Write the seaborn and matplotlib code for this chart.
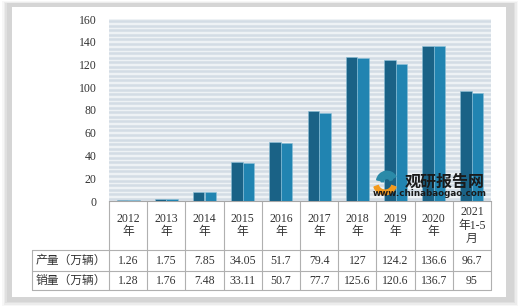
import matplotlib
matplotlib.use("Agg")
import matplotlib.pyplot as plt
import matplotlib.transforms as mtransforms
from matplotlib.patches import Rectangle, Wedge
import seaborn as sns
import pandas as pd

sns.set_theme(style="white")
plt.rcParams['font.family'] = ['Liberation Serif', 'Noto Sans CJK SC']

categories = ["2012\n年", "2013\n年", "2014\n年", "2015\n年", "2016\n年",
              "2017\n年", "2018\n年", "2019\n年", "2020\n年", "2021\n年1-5\n月"]
production = [1.26, 1.75, 7.85, 34.05, 51.7, 79.4, 127, 124.2, 136.6, 96.7]
sales = [1.28, 1.76, 7.48, 33.11, 50.7, 77.7, 125.6, 120.6, 136.7, 95]
series_names = ["产量（万辆）", "销量（万辆）"]
yticks = [0, 20, 40, 60, 80, 100, 120, 140, 160]
colors = ["#1a6286", "#2184b1"]

df = pd.DataFrame({
    "cat": categories * 2,
    "val": production + sales,
    "series": [series_names[0]] * len(categories) + [series_names[1]] * len(categories),
})

W, H = 522, 306
fig = plt.figure(figsize=(W / 100, H / 100), dpi=100)
fig.patch.set_facecolor("white")

def prect(x0, y0, x1, y1, **kw):
    r = Rectangle((x0 / W, 1 - y1 / H), (x1 - x0) / W, (y1 - y0) / H,
                  transform=fig.transFigure, **kw)
    fig.add_artist(r)

for i, a in enumerate([0.15, 0.25, 0.4, 0.6]):
    d = 6 - i * 1.5
    prect(8 - d, 4 - d * 0.5, 512 + d, 300 + d, facecolor="#cfcfcf", edgecolor="none", alpha=a, zorder=-5)
prect(12, 7, 506, 297, facecolor="white", edgecolor="none", zorder=-4)

ax = fig.add_axes([109 / W, 1 - 201 / H, 382 / W, 182 / H])
ax.set_facecolor("#eef2f5")
for y in range(2, 161, 4):
    ax.axhline(y, color="#d3dce5", lw=1.8, zorder=0)

sns.barplot(data=df, x="cat", y="val", hue="series", palette=colors, width=0.6,
            saturation=1, ax=ax, edgecolor="#8cc0d8", linewidth=0.4, zorder=3, legend=False)

ax.set_xlim(-0.5, len(categories) - 0.5)
ax.set_ylim(0, 160)
ax.set_yticks(yticks)
ax.set_yticklabels([str(t) for t in yticks], fontsize=8.5, color="#333333")
ax.tick_params(axis="y", length=0, pad=9)
ax.set_xticks([])
ax.set_xlabel("")
ax.set_ylabel("")
for s in ["top", "right", "left"]:
    ax.spines[s].set_visible(False)
ax.spines["bottom"].set_color("#a6a6a6")
ax.spines["bottom"].set_linewidth(0.8)

tr = mtransforms.blended_transform_factory(ax.transData, ax.transAxes)
def ypos(py):
    return (201 - py) / 182.0

line_kw = dict(color="#b0b0b0", lw=0.8, transform=tr, clip_on=False)
n = len(categories)
left_x = -0.5 - 77 / 38.2
y_h, y_r1, y_r2 = ypos(250), ypos(271), ypos(290)
for k in range(n + 1):
    ax.plot([k - 0.5, k - 0.5], [0, y_r2], **line_kw)
ax.plot([left_x, left_x], [y_h, y_r2], **line_kw)
for yy in [y_h, y_r1, y_r2]:
    ax.plot([left_x, n - 0.5], [yy, yy], **line_kw)

txt_kw = dict(transform=tr, ha="center", va="center", fontsize=8.5, color="#333333",
              linespacing=1.15)
for i, c in enumerate(categories):
    ax.text(i, ypos(225.5), c, **txt_kw)
    ax.text(i, ypos(260.5), f"{production[i]:g}", **txt_kw)
    ax.text(i, ypos(280.5), f"{sales[i]:g}", **txt_kw)
lx = (left_x + -0.5) / 2
ax.text(lx, ypos(260.5), series_names[0], **txt_kw)
ax.text(lx, ypos(280.5), series_names[1], **txt_kw)

# watermark logo and text
wax = fig.add_axes([372 / W, 1 - 196 / H, 26 / W, 26 / H])
wax.set_xlim(-1, 1); wax.set_ylim(-1, 1); wax.set_aspect("equal"); wax.axis("off")
wax.add_patch(Wedge((0, 0), 0.9, 200, 340, width=0.35, color="#f39a1e"))
wax.add_patch(Wedge((0.15, 0.1), 0.8, 30, 170, width=0.3, color="#2a8aa8"))
wax.add_patch(Wedge((0.15, 0.1), 0.45, 20, 180, width=0.2, color="#2a8aa8"))
fig.text(445 / W, 1 - 182 / H, "观研报告网", family="Noto Sans CJK SC", fontweight="bold",
         fontsize=11.5, color="#1a1a1a", ha="center", va="center", zorder=10)
fig.text(430 / W, 1 - 194 / H, "www.chinabaogao.com", family="DejaVu Sans", fontweight="bold",
         fontsize=6.3, color="#1a1a1a", ha="center", va="center", zorder=10)

fig.savefig("out.png", dpi=100)
